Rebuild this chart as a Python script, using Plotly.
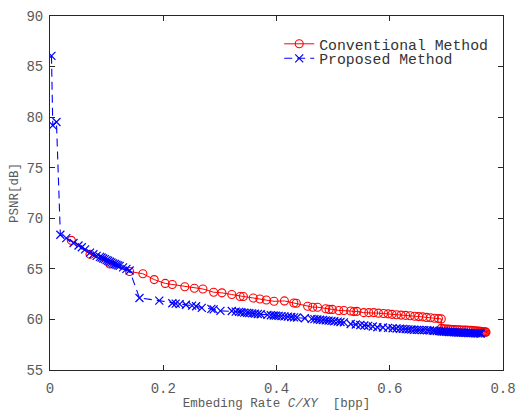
import plotly.graph_objects as go

# Conventional method: embedding rate [bpp] and PSNR [dB]
conv_rate = [0.0376, 0.0707, 0.1057, 0.1406, 0.164, 0.184, 0.2035, 0.216, 0.238, 0.255,
             0.270, 0.289, 0.3036, 0.321, 0.3357, 0.3415, 0.359, 0.3707, 0.382, 0.3956,
             0.414, 0.4306, 0.435, 0.455, 0.464, 0.4725, 0.487, 0.493, 0.4987, 0.510,
             0.519, 0.531, 0.5366, 0.542, 0.554, 0.563, 0.5715, 0.580, 0.589, 0.597,
             0.604, 0.612, 0.620, 0.628, 0.636, 0.644, 0.651, 0.658, 0.665, 0.672,
             0.679, 0.686, 0.691, 0.691, 0.695, 0.699, 0.703, 0.707, 0.711, 0.715,
             0.719, 0.723, 0.727, 0.731, 0.735, 0.739, 0.743, 0.747, 0.751, 0.754,
             0.757, 0.760, 0.762, 0.764, 0.766, 0.768, 0.769, 0.770]
conv_psnr = [67.82, 66.44, 65.48, 64.74, 64.52, 63.94, 63.56, 63.46, 63.23, 63.08,
             63.01, 62.69, 62.63, 62.46, 62.27, 62.27, 62.12, 62.02, 61.92, 61.79,
             61.83, 61.63, 61.60, 61.31, 61.21, 61.21, 61.06, 60.99, 60.99, 60.89,
             60.89, 60.83, 60.77, 60.80, 60.67, 60.67, 60.67, 60.62, 60.58, 60.55,
             60.50, 60.46, 60.43, 60.40, 60.36, 60.32, 60.28, 60.25, 60.20, 60.16,
             60.12, 60.08, 60.05, 59.12, 59.08, 59.06, 59.04, 59.02, 59.01, 59.00,
             58.98, 58.97, 58.96, 58.95, 58.94, 58.93, 58.92, 58.90, 58.88, 58.86,
             58.84, 58.82, 58.80, 58.78, 58.77, 58.76, 58.75, 58.74]

# Proposed method: embedding rate [bpp] and PSNR [dB]
prop_rate = [0.0026, 0.0049, 0.0114, 0.0183, 0.0288, 0.0416, 0.0504, 0.0562, 0.062, 0.0707,
             0.0766, 0.0824, 0.0882, 0.0911, 0.094, 0.097, 0.0999, 0.1028, 0.1057, 0.1086,
             0.1115, 0.1144, 0.1174, 0.1203, 0.1231, 0.129, 0.135, 0.1406, 0.158, 0.193,
             0.216, 0.222, 0.229, 0.240, 0.251, 0.258, 0.268, 0.285, 0.289, 0.301,
             0.321, 0.328, 0.334, 0.338, 0.343, 0.348, 0.352, 0.357, 0.362, 0.367,
             0.372, 0.384, 0.390, 0.395, 0.399, 0.404, 0.409, 0.414, 0.420, 0.426,
             0.431, 0.436, 0.450, 0.462, 0.467, 0.472, 0.477, 0.482, 0.487, 0.492,
             0.497, 0.502, 0.508, 0.513, 0.519, 0.531, 0.540, 0.548, 0.555, 0.562,
             0.570, 0.578, 0.588, 0.597, 0.605, 0.612, 0.618, 0.623, 0.628, 0.633,
             0.638, 0.643, 0.648, 0.652, 0.657, 0.661, 0.666, 0.671, 0.676, 0.679,
             0.683, 0.687, 0.690, 0.693, 0.696, 0.699, 0.702, 0.705, 0.708, 0.711,
             0.714, 0.717, 0.720, 0.723, 0.726, 0.729, 0.732, 0.735, 0.738, 0.741,
             0.744, 0.747, 0.750, 0.753, 0.756, 0.759, 0.761]
prop_psnr = [86.06, 79.19, 79.52, 68.37, 68.04, 67.56, 67.31, 67.14, 66.92, 66.60,
             66.44, 66.28, 66.18, 66.12, 66.02, 65.96, 65.86, 65.80, 65.70, 65.63,
             65.54, 65.48, 65.41, 65.35, 65.29, 65.15, 65.00, 64.84, 62.12, 61.86,
             61.60, 61.56, 61.52, 61.45, 61.36, 61.30, 61.15, 61.05, 60.99, 60.85,
             60.83, 60.77, 60.74, 60.71, 60.68, 60.65, 60.62, 60.60, 60.57, 60.54,
             60.51, 60.45, 60.41, 60.39, 60.37, 60.35, 60.32, 60.30, 60.27, 60.24,
             60.21, 60.19, 60.12, 60.05, 60.03, 60.00, 59.97, 59.94, 59.91, 59.88,
             59.85, 59.82, 59.79, 59.75, 59.71, 59.55, 59.50, 59.45, 59.40, 59.36,
             59.30, 59.23, 59.20, 59.17, 59.13, 59.10, 59.08, 59.06, 59.04, 59.02,
             59.00, 58.98, 58.97, 58.96, 58.95, 58.94, 58.93, 58.91, 58.90, 58.88,
             58.86, 58.84, 58.82, 58.80, 58.79, 58.78, 58.77, 58.76, 58.75, 58.74,
             58.73, 58.72, 58.71, 58.70, 58.69, 58.68, 58.67, 58.67, 58.66, 58.65,
             58.65, 58.64, 58.63, 58.63, 58.62, 58.62, 58.61]

x_ticks = [0, 0.2, 0.4, 0.6, 0.8]
x_tick_text = ["0", "0.2", "0.4", "0.6", "0.8"]
y_ticks = [55, 60, 65, 70, 75, 80, 85, 90]

MONO = "Liberation Mono, Courier New, monospace"
GREY = "#5a5a5a"

fig = go.Figure()
fig.add_trace(go.Scatter(
    x=conv_rate, y=conv_psnr, mode="lines+markers", name="Conventional Method",
    line=dict(color="#ff0000", width=1),
    marker=dict(symbol="circle-open", size=8, color="#ff0000", line=dict(width=1.1)),
    legend="legend",
))
fig.add_trace(go.Scatter(
    x=prop_rate, y=prop_psnr, mode="lines+markers", name="Proposed Method",
    line=dict(color="#0000ff", width=1.1, dash="8px,5px"),
    marker=dict(symbol="x-thin-open", size=8, color="#0000ff", line=dict(width=1.2, color="#0000ff")),
    legend="legend2",
))

axis_common = dict(
    showgrid=False, zeroline=False, showline=True, linecolor="#262626", linewidth=1,
    mirror="ticks", ticks="inside", ticklen=5, tickcolor="#262626",
    tickfont=dict(family=MONO, size=14, color=GREY),
)
fig.update_xaxes(
    range=[0, 0.8], tickvals=x_ticks, ticktext=x_tick_text, ticklabelstandoff=5,
    title=dict(text="Embeding Rate <i>C/XY</i>&nbsp; [bpp]",
               font=dict(family=MONO, size=12.5, color=GREY), standoff=2),
    **axis_common,
)
fig.update_yaxes(
    range=[55, 90], tickvals=y_ticks, ticklabelstandoff=3,
    title=dict(text="PSNR[dB]",
               font=dict(family=MONO, size=12.5, color=GREY), standoff=5),
    **axis_common,
)

legend_common = dict(
    xanchor="left", yanchor="top", x=0.506,
    font=dict(family=MONO, size=14.8, color="#333333"),
    bgcolor="rgba(0,0,0,0)", itemwidth=30,
)
fig.update_layout(
    width=525, height=417,
    margin=dict(l=50, r=18, t=9, b=45),
    paper_bgcolor="white", plot_bgcolor="white",
    showlegend=True,
    legend=dict(y=0.967, **legend_common),
    legend2=dict(y=0.926, **legend_common),
)
fig.write_html("out.html")
